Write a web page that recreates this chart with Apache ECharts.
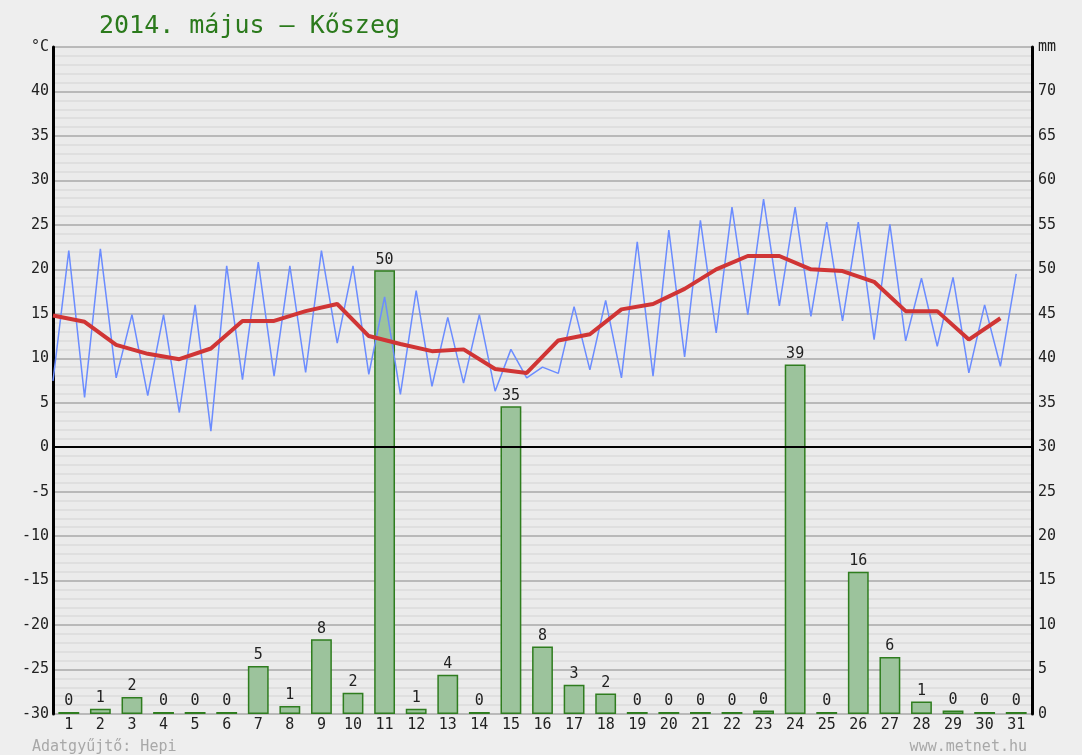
<!DOCTYPE html>
<html>
<head>
<meta charset="utf-8">
<script src="https://cdn.jsdelivr.net/npm/echarts@6/dist/echarts.min.js"></script>
<style>
  html, body { margin: 0; padding: 0; background: #eeeeee; }
  #chart { width: 1082px; height: 755px; }
</style>
</head>
<body>
<div id="chart"></div>
<script>
// days of May 2014
const days = Array.from({ length: 31 }, (_, i) => String(i + 1))

// daily minimum / maximum temperature, °C
const tMin = [7.45, 5.6, 7.8, 5.8, 3.9, 1.8, 7.6, 8.0, 8.4, 11.7, 8.2, 5.95, 6.85, 7.2, 6.3, 7.8,
  8.3, 8.7, 7.8, 8.0, 10.15, 12.85, 14.9, 15.9, 14.7, 14.2, 12.1, 11.95, 11.35, 8.35, 9.1]
const tMax = [22.1, 22.3, 14.9, 14.9, 16.0, 20.4, 20.8, 20.4, 22.1, 20.4, 16.9, 17.6, 14.6, 14.9, 11.0, 9.0,
  15.8, 16.5, 23.1, 24.4, 25.5, 27.0, 27.9, 27.0, 25.3, 25.3, 25.05, 19.0, 19.1, 16.0, 19.5]
// daily mean temperature, °C
const tAvg = [14.8, 14.1, 11.5, 10.5, 9.9, 11.1, 14.2, 14.2, 15.3, 16.1, 12.5, 11.6, 10.8, 11.0, 8.8, 8.35,
  12.0, 12.7, 15.5, 16.1, 17.8, 20.0, 21.5, 21.5, 20.0, 19.8, 18.6, 15.3, 15.3, 12.1, 14.5]
// daily precipitation, mm
const rain = [0, 0.6, 1.9, 0, 0, 0, 5.4, 0.9, 8.4, 2.4, 49.9, 0.6, 4.4, 0, 34.6, 7.6,
  3.3, 2.3, 0, 0, 0, 0, 0.4, 39.3, 0, 16.0, 6.4, 1.4, 0.4, 0, 0]

const tempMin = -30, tempMax = 45, rainMax = 75, step = 5

// min at start of day, max at middle of day
const tempLine = []
tMin.forEach((v, i) => {
  tempLine.push([i, v])
  tempLine.push([i + 0.5, tMax[i]])
})
const avgLine = tAvg.map((v, i) => [i, v])

const mono = 'DejaVu Sans Mono'
const chart = echarts.init(document.getElementById('chart'))

chart.setOption({
  backgroundColor: '#eeeeee',
  animation: false,
  title: [
    {
      text: '2014. május – Kőszeg',
      left: 94, top: 9,
      textStyle: { fontFamily: mono, fontSize: 25, fontWeight: 'normal', color: '#2b7a1c' },
    },
    {
      text: 'Adatgyűjtő: Hepi',
      left: 27, top: 735,
      textStyle: { fontFamily: mono, fontSize: 15, fontWeight: 'normal', color: '#a8a8a8' },
    },
    {
      text: 'www.metnet.hu',
      right: 50, top: 735,
      textStyle: { fontFamily: mono, fontSize: 15, fontWeight: 'normal', color: '#a8a8a8' },
    },
  ],
  grid: {
    left: 53, right: 50, top: 47, bottom: 41,
    show: true, backgroundColor: '#ebebeb', borderWidth: 0,
    outerBoundsMode: 'none',
  },
  xAxis: [
    {
      type: 'category',
      data: days,
      axisLine: { show: false },
      axisTick: { show: false },
      splitLine: { show: false },
      axisLabel: { interval: 0, margin: 4, fontFamily: mono, fontSize: 15, color: '#222' },
    },
    {
      type: 'value',
      min: 0, max: 31,
      show: false,
    },
  ],
  yAxis: [
    {
      type: 'value',
      min: tempMin, max: tempMax, interval: step,
      position: 'left',
      axisLine: { show: true, lineStyle: { color: '#000', width: 3 } },
      axisTick: { show: false },
      axisLabel: {
        margin: 4, fontFamily: mono, fontSize: 15, color: '#222',
        formatter: v => (v === tempMax ? '°C' : String(v)),
      },
      splitLine: { show: true, lineStyle: { color: '#a8a8a8', width: 1.5 } },
      minorTick: { show: false, splitNumber: 5 },
      minorSplitLine: { show: true, lineStyle: { color: '#dcdcdc', width: 1.5 } },
    },
    {
      type: 'value',
      min: 0, max: rainMax, interval: step,
      position: 'right',
      axisLine: { show: true, lineStyle: { color: '#000', width: 3 } },
      axisTick: { show: false },
      axisLabel: {
        margin: 6, fontFamily: mono, fontSize: 15, color: '#222',
        formatter: v => (v === rainMax ? 'mm' : String(v)),
      },
      splitLine: { show: false },
    },
  ],
  series: [
    {
      name: 'csapadék',
      type: 'bar',
      xAxisIndex: 0, yAxisIndex: 1,
      data: rain,
      barWidth: '66%',
      barMinHeight: 2,
      itemStyle: { color: '#9cc39c', borderColor: '#2f7d1f', borderWidth: 1.5 },
      label: {
        show: true, position: 'top', distance: 3,
        fontFamily: mono, fontSize: 15, color: '#222',
        formatter: p => String(Math.round(p.value)),
      },
      z: 2,
    },
    {
      name: 'min/max',
      type: 'line',
      xAxisIndex: 1, yAxisIndex: 0,
      data: tempLine,
      showSymbol: false,
      lineStyle: { color: '#6b8cff', width: 1.5 },
      z: 3,
      markLine: {
        silent: true,
        symbol: ['none', 'none'],
        label: { show: false },
        lineStyle: { color: '#000', width: 2, type: 'solid' },
        data: [{ yAxis: 0 }],
      },
    },
    {
      name: 'átlag',
      type: 'line',
      xAxisIndex: 1, yAxisIndex: 0,
      data: avgLine,
      showSymbol: false,
      lineStyle: { color: '#d03535', width: 4 },
      z: 4,
    },
  ],
})
</script>
</body>
</html>
